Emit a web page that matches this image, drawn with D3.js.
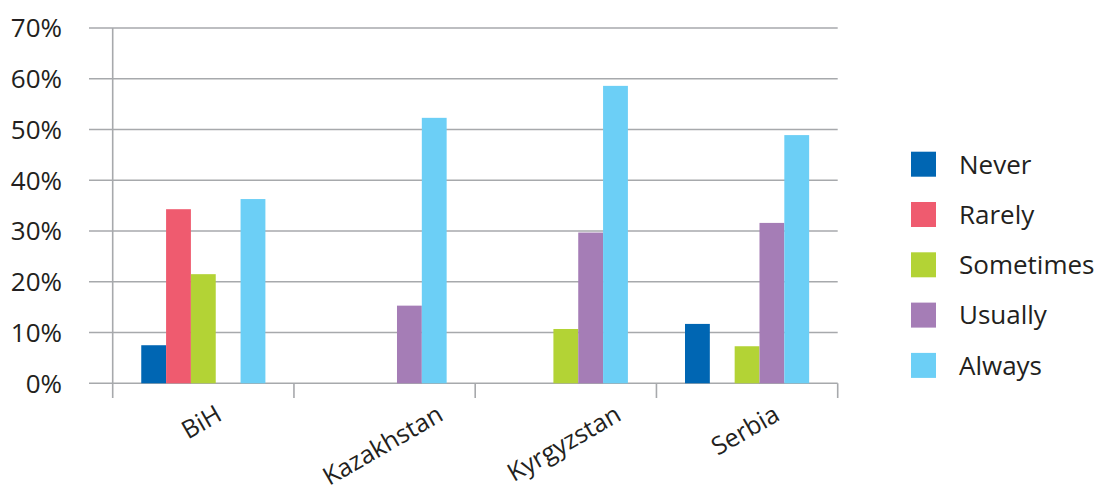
<!DOCTYPE html>
<html><head><meta charset="utf-8">
<script src="https://cdn.jsdelivr.net/npm/d3@7"></script>
<style>body{margin:0;background:#fff}text{font-family:"Open Sans",sans-serif;fill:#231f20}</style>
</head><body>
<svg id="c" width="1098" height="494"></svg>
<script>
const categories = ["BiH","Kazakhstan","Kyrgyzstan","Serbia"];
const seriesNames = ["Never","Rarely","Sometimes","Usually","Always"];
const never     = [7.5, 0, 0, 11.7];
const rarely    = [34.3, 0, 0, 0];
const sometimes = [21.5, 0, 10.7, 7.3];
const usually   = [0, 15.3, 29.7, 31.6];
const always    = [36.3, 52.3, 58.6, 48.9];
const colors = ["#0066b3","#ef5b6f","#b3d335","#a57db6","#6ccff6"];
const yTicks = [0,10,20,30,40,50,60,70];
const seriesValues = [never, rarely, sometimes, usually, always];

const svg = d3.select("#c");
const x0 = d3.scaleBand().domain(categories).range([112.7, 837.7]).paddingInner(0).paddingOuter(0);
const x1 = d3.scaleBand().domain(seriesNames).range([0, x0.bandwidth()]).paddingInner(0).paddingOuter(1.15);
const y = d3.scaleLinear().domain([0,70]).range([383.3, 28]);
const grid = "#a7a9ac";

svg.append("g").selectAll("line").data(yTicks).join("line")
  .attr("x1", 89).attr("x2", 837.7)
  .attr("y1", d=>y(d)).attr("y2", d=>y(d))
  .attr("stroke", grid).attr("stroke-width", 1.6);
svg.append("line").attr("x1",112.7).attr("x2",112.7).attr("y1",y(70)).attr("y2",398)
  .attr("stroke",grid).attr("stroke-width",1.6);
const seps = categories.map(c=>x0(c)+x0.bandwidth());
svg.append("g").selectAll("line").data(seps).join("line")
  .attr("x1",d=>d).attr("x2",d=>d).attr("y1",y(0)).attr("y2",398)
  .attr("stroke",grid).attr("stroke-width",1.6);
svg.append("g").selectAll("text").data(yTicks).join("text")
  .attr("x",62).attr("y",d=>y(d)).attr("dy","0.36em").attr("text-anchor","end")
  .style("font-size","26px").text(d=>d+"%");

seriesNames.forEach((s,i)=>{
  svg.append("g").selectAll("rect").data(categories.map((c,j)=>({c, v:seriesValues[i][j]})).filter(d=>d.v>0))
    .join("rect")
    .attr("x", d=>x0(d.c)+x1(s)).attr("width", x1.bandwidth())
    .attr("y", d=>y(d.v)).attr("height", d=>y(0)-y(d.v))
    .attr("fill", colors[i]);
});

const fs = 25;
categories.forEach(c=>{
  const t = svg.append("text").style("font-size",fs+"px").attr("text-anchor","middle").attr("dy","0.35em").text(c);
  const w = t.node().getComputedTextLength();
  const h = fs*0.72;
  const bh = w*Math.sin(Math.PI/6) + h*Math.cos(Math.PI/6);
  const cx = x0(c)+x0.bandwidth()/2 - 2, cy = 404 + bh/2;
  t.attr("transform",`translate(${cx},${cy}) rotate(-30)`);
});

const lg = svg.append("g");
seriesNames.forEach((s,i)=>{
  const yy = 151.7 + i*50.3;
  lg.append("rect").attr("x",911).attr("y",yy).attr("width",25).attr("height",25).attr("fill",colors[i]);
  lg.append("text").attr("x",959).attr("y",yy+12.5).attr("dy","0.36em").style("font-size","26px").text(s);
});
</script>
</body></html>
